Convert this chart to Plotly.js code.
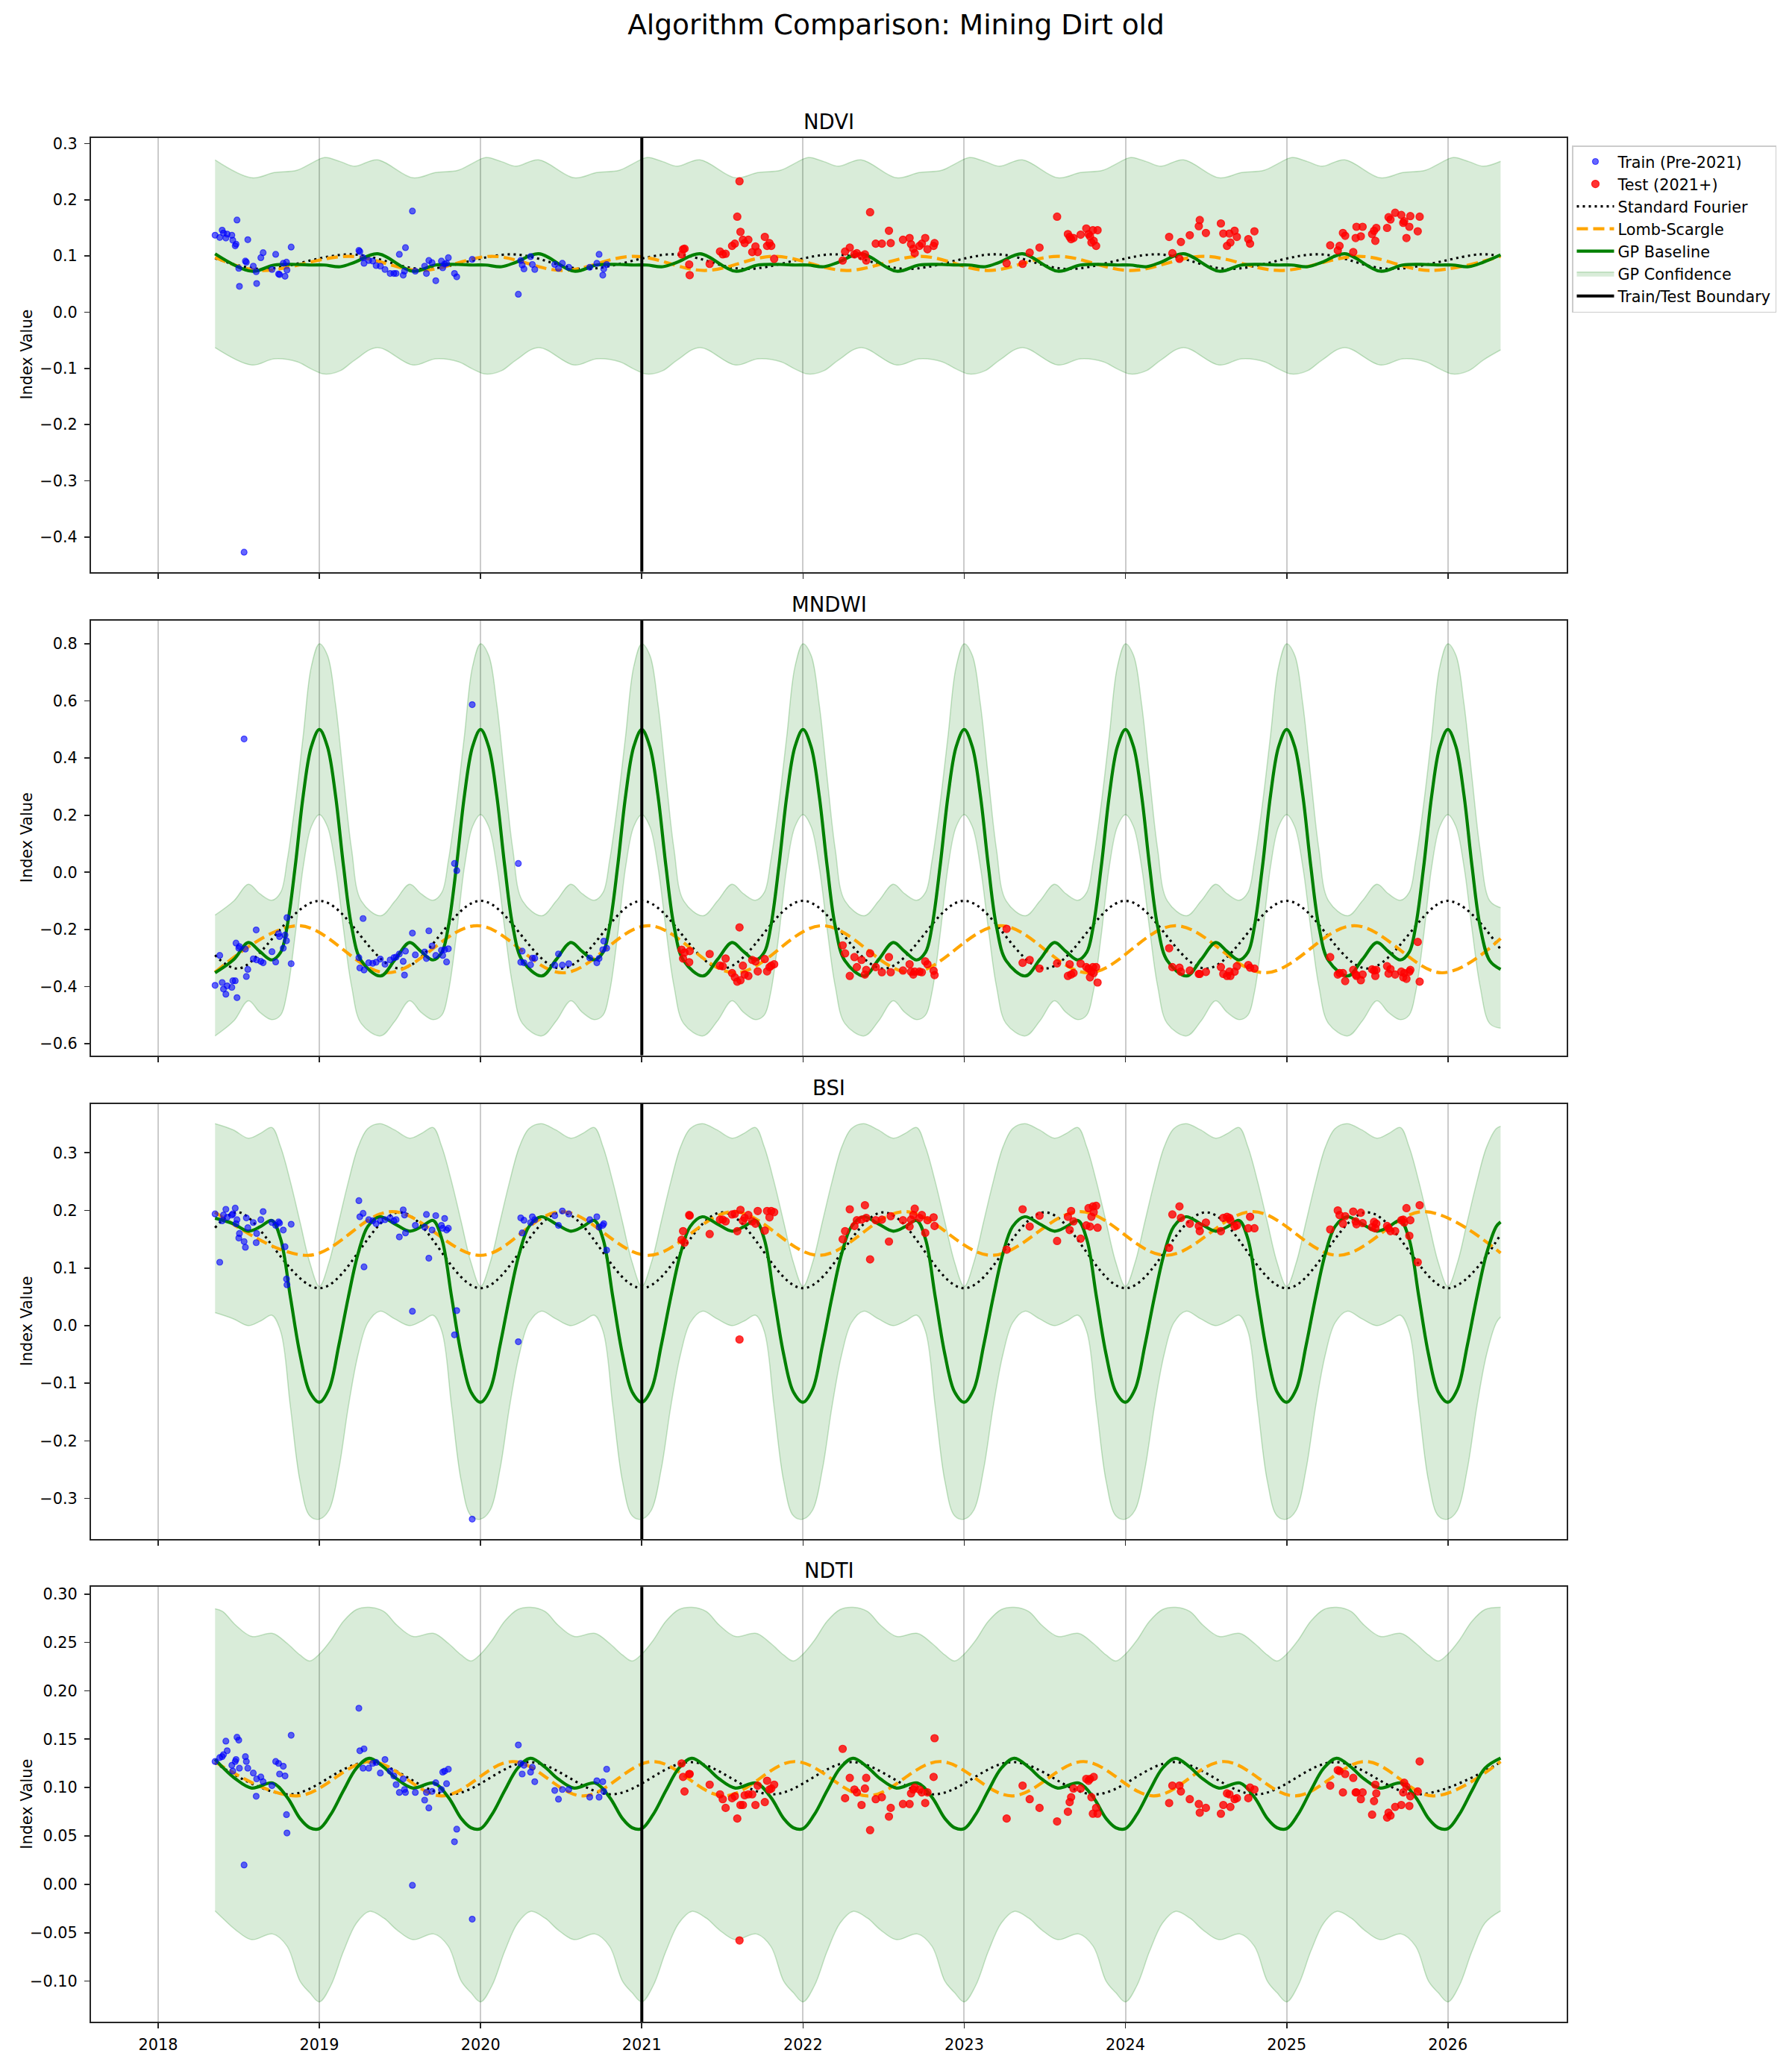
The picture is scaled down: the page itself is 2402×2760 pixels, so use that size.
<!DOCTYPE html>
<html>
<head>
<meta charset="utf-8">
<script src="https://cdn.plot.ly/plotly-3.0.1.min.js"></script>
<style>
  html, body { margin: 0; padding: 0; background: #ffffff; }
  #chart { width: 2402px; height: 2760px; }
</style>
</head>
<body>
<div id="chart"></div>
<script>
// ---------------------------------------------------------------------------
// Observation dates (decimal years) shared by all four indices
// ---------------------------------------------------------------------------
const trainYears = [
  2018.353, 2018.382, 2018.397, 2018.405, 2018.420, 2018.428, 2018.457, 2018.463, 2018.478, 2018.483,
  2018.489, 2018.500, 2018.504, 2018.533, 2018.541, 2018.547, 2018.556, 2018.590, 2018.608, 2018.611,
  2018.637, 2018.651, 2018.706, 2018.729, 2018.747, 2018.753, 2018.776, 2018.787, 2018.796, 2018.799,
  2018.825,
  2019.245, 2019.251, 2019.271, 2019.277, 2019.306, 2019.331, 2019.352, 2019.378, 2019.407, 2019.439,
  2019.462, 2019.476, 2019.496, 2019.520, 2019.528, 2019.534, 2019.577, 2019.595, 2019.653, 2019.664,
  2019.679, 2019.699, 2019.722, 2019.757, 2019.765, 2019.777, 2019.789, 2019.800, 2019.838, 2019.852,
  2019.948,
  2020.234, 2020.249, 2020.258, 2020.269, 2020.310, 2020.321, 2020.336, 2020.460, 2020.483, 2020.507,
  2020.547, 2020.677, 2020.721, 2020.735, 2020.758, 2020.764, 2020.782
];
const testYears = [
  2021.247, 2021.256, 2021.265, 2021.294, 2021.297, 2021.421, 2021.485, 2021.502, 2021.520, 2021.560,
  2021.577, 2021.592, 2021.606, 2021.612, 2021.627, 2021.638, 2021.661, 2021.685, 2021.705, 2021.719,
  2021.763, 2021.777, 2021.792, 2021.803, 2021.821,
  2022.246, 2022.261, 2022.290, 2022.319, 2022.334, 2022.363, 2022.384, 2022.392, 2022.416, 2022.451,
  2022.489, 2022.533, 2022.544, 2022.620, 2022.661, 2022.670, 2022.684, 2022.693, 2022.722, 2022.737,
  2022.758, 2022.772, 2022.810, 2022.816,
  2023.263, 2023.362, 2023.406, 2023.467, 2023.576, 2023.643, 2023.654, 2023.663, 2023.678, 2023.722,
  2023.757, 2023.771, 2023.780, 2023.789, 2023.798, 2023.803, 2023.818, 2023.827,
  2024.271, 2024.291, 2024.335, 2024.344, 2024.399, 2024.455, 2024.461, 2024.499, 2024.592, 2024.607,
  2024.630, 2024.645, 2024.651, 2024.677, 2024.691, 2024.762, 2024.773, 2024.800,
  2025.270, 2025.317, 2025.328, 2025.349, 2025.363, 2025.413, 2025.428, 2025.433, 2025.460, 2025.471,
  2025.530, 2025.542, 2025.550, 2025.556, 2025.623, 2025.632, 2025.644, 2025.673, 2025.711, 2025.723,
  2025.729, 2025.743, 2025.761, 2025.767, 2025.813, 2025.825
];

// ---------------------------------------------------------------------------
// NDVI
// ---------------------------------------------------------------------------
const ndviTrain = [
  0.137, 0.133, 0.146, 0.141, 0.132, 0.139, 0.137, 0.128, 0.118, 0.121,
  0.164, 0.078, 0.046, -0.427, 0.091, 0.089, 0.129, 0.082, 0.072, 0.051,
  0.097, 0.106, 0.076, 0.103, 0.068, 0.067, 0.087, 0.064, 0.089, 0.075,
  0.116,
  0.110, 0.108, 0.097, 0.087, 0.092, 0.091, 0.083, 0.082, 0.076, 0.069,
  0.069, 0.069, 0.103, 0.066, 0.073, 0.115, 0.180, 0.073, 0.082, 0.069,
  0.092, 0.088, 0.056, 0.091, 0.079, 0.086, 0.087, 0.097, 0.069, 0.063,
  0.094,
  0.032, 0.092, 0.084, 0.077, 0.099, 0.085, 0.076, 0.085, 0.078, 0.087,
  0.080, 0.080, 0.087, 0.103, 0.066, 0.077, 0.085
];
const ndviTest = [
  0.103, 0.112, 0.113, 0.085, 0.066, 0.086, 0.108, 0.103, 0.104, 0.118,
  0.122, 0.170, 0.233, 0.143, 0.129, 0.123, 0.129, 0.107, 0.117, 0.107,
  0.134, 0.118, 0.123, 0.118, 0.095,
  0.092, 0.108, 0.115, 0.103, 0.105, 0.100, 0.103, 0.092, 0.178, 0.122,
  0.122, 0.145, 0.123, 0.129, 0.132, 0.121, 0.113, 0.105, 0.118, 0.122,
  0.132, 0.112, 0.118, 0.123,
  0.087, 0.086, 0.106, 0.115, 0.170, 0.139, 0.134, 0.130, 0.132, 0.138,
  0.149, 0.139, 0.135, 0.124, 0.146, 0.127, 0.118, 0.146,
  0.134, 0.105, 0.095, 0.125, 0.137, 0.153, 0.164, 0.141, 0.158, 0.140,
  0.118, 0.140, 0.124, 0.145, 0.134, 0.130, 0.122, 0.144,
  0.119, 0.110, 0.118, 0.141, 0.136, 0.107, 0.132, 0.152, 0.135, 0.152,
  0.139, 0.145, 0.127, 0.150, 0.150, 0.169, 0.165, 0.177, 0.173, 0.159,
  0.162, 0.132, 0.152, 0.171, 0.144, 0.170
];
const ndviBandT = [
  2018.353, 2018.58, 2018.72, 2018.86, 2018.95,
  2019.03, 2019.13, 2019.22, 2019.36, 2019.58, 2019.72, 2019.86, 2019.95,
  2020.03, 2020.13, 2020.22, 2020.36, 2020.58, 2020.72, 2020.86, 2020.95,
  2021.03, 2021.13, 2021.22, 2021.36, 2021.58, 2021.72, 2021.86, 2021.95,
  2022.03, 2022.13, 2022.22, 2022.36, 2022.58, 2022.72, 2022.86, 2022.95,
  2023.03, 2023.13, 2023.22, 2023.36, 2023.58, 2023.72, 2023.86, 2023.95,
  2024.03, 2024.13, 2024.22, 2024.36, 2024.58, 2024.72, 2024.86, 2024.95,
  2025.03, 2025.13, 2025.22, 2025.36, 2025.58, 2025.72, 2025.86, 2025.95,
  2026.03, 2026.13, 2026.22, 2026.327
];
const ndviGp = [
  0.104, 0.073, 0.084, 0.085, 0.084,
  0.084, 0.081, 0.089, 0.104, 0.073, 0.084, 0.085, 0.084,
  0.084, 0.081, 0.089, 0.104, 0.073, 0.084, 0.085, 0.084,
  0.084, 0.081, 0.089, 0.104, 0.073, 0.084, 0.085, 0.084,
  0.084, 0.081, 0.089, 0.104, 0.073, 0.084, 0.085, 0.084,
  0.084, 0.081, 0.089, 0.104, 0.073, 0.084, 0.085, 0.084,
  0.084, 0.081, 0.089, 0.104, 0.073, 0.084, 0.085, 0.084,
  0.084, 0.081, 0.089, 0.104, 0.073, 0.084, 0.085, 0.084,
  0.084, 0.081, 0.089, 0.102
];
const ndviUpper = [
  0.271, 0.2392, 0.2485, 0.2525, 0.265,
  0.2753, 0.268, 0.2598, 0.2712, 0.2392, 0.2485, 0.2525, 0.265,
  0.2753, 0.268, 0.2598, 0.2712, 0.2392, 0.2485, 0.2525, 0.265,
  0.2753, 0.268, 0.2598, 0.2712, 0.2392, 0.2485, 0.2525, 0.265,
  0.2753, 0.268, 0.2598, 0.2712, 0.2392, 0.2485, 0.2525, 0.265,
  0.2753, 0.268, 0.2598, 0.2712, 0.2392, 0.2485, 0.2525, 0.265,
  0.2753, 0.268, 0.2598, 0.2712, 0.2392, 0.2485, 0.2525, 0.265,
  0.2753, 0.268, 0.2598, 0.2712, 0.2392, 0.2485, 0.2525, 0.265,
  0.2753, 0.268, 0.2598, 0.2686
];
const ndviLower = [
  -0.063, -0.094, -0.083, -0.088, -0.101,
  -0.110, -0.104, -0.085, -0.063, -0.094, -0.083, -0.088, -0.101,
  -0.110, -0.104, -0.085, -0.063, -0.094, -0.083, -0.088, -0.101,
  -0.110, -0.104, -0.085, -0.063, -0.094, -0.083, -0.088, -0.101,
  -0.110, -0.104, -0.085, -0.063, -0.094, -0.083, -0.088, -0.101,
  -0.110, -0.104, -0.085, -0.063, -0.094, -0.083, -0.088, -0.101,
  -0.110, -0.104, -0.085, -0.063, -0.094, -0.083, -0.088, -0.101,
  -0.110, -0.104, -0.085, -0.063, -0.094, -0.083, -0.088, -0.101,
  -0.110, -0.104, -0.085, -0.067
];
const ndviFourierT = [2018.353, 2018.64, 2019.20, 2019.64, 2020.20, 2020.64, 2021.20, 2021.64, 2022.20,
  2022.64, 2023.20, 2023.64, 2024.20, 2024.64, 2025.20, 2025.64, 2026.20, 2026.327];
const ndviFourierV = [0.096, 0.077, 0.103, 0.077, 0.103, 0.077, 0.103, 0.077, 0.103,
  0.077, 0.103, 0.077, 0.103, 0.077, 0.103, 0.077, 0.103, 0.100];
const ndviLombT = [2018.353, 2018.63, 2019.19, 2019.63, 2020.07, 2020.51, 2020.95, 2021.39, 2021.82, 2022.27,
  2022.73, 2023.15, 2023.58, 2024.03, 2024.48, 2024.96, 2025.45, 2025.89, 2026.327];
const ndviLombV = [0.0975, 0.0743, 0.0995, 0.0743, 0.0995, 0.0743, 0.0995, 0.0743, 0.0995, 0.0743,
  0.0995, 0.0743, 0.0995, 0.0743, 0.0995, 0.0743, 0.0995, 0.0743, 0.0995];

// ---------------------------------------------------------------------------
// MNDWI
// ---------------------------------------------------------------------------
const mndwiTrain = [
  -0.396, -0.291, -0.386, -0.409, -0.427, -0.398, -0.403, -0.380, -0.380, -0.248,
  -0.439, -0.266, -0.260, 0.467, -0.269, -0.365, -0.340, -0.303, -0.202, -0.307,
  -0.312, -0.317, -0.278, -0.314, -0.215, -0.225, -0.266, -0.220, -0.240, -0.159,
  -0.320,
  -0.299, -0.335, -0.162, -0.342, -0.317, -0.319, -0.315, -0.304, -0.322, -0.307,
  -0.299, -0.297, -0.286, -0.312, -0.360, -0.276, -0.213, -0.289, -0.279, -0.302,
  -0.205, -0.258, -0.291, -0.273, -0.291, -0.271, -0.314, -0.268, 0.031, 0.006,
  0.587,
  0.031, -0.315, -0.276, -0.317, -0.324, -0.301, -0.301, -0.325, -0.286, -0.325,
  -0.320, -0.300, -0.317, -0.302, -0.271, -0.241, -0.266
];
const mndwiTest = [
  -0.271, -0.302, -0.281, -0.315, -0.276, -0.286, -0.327, -0.329, -0.302, -0.353,
  -0.368, -0.383, -0.193, -0.378, -0.327, -0.358, -0.363, -0.307, -0.312, -0.347,
  -0.304, -0.347, -0.332, -0.327, -0.322,
  -0.256, -0.284, -0.363, -0.297, -0.332, -0.307, -0.358, -0.342, -0.284, -0.332,
  -0.350, -0.297, -0.350, -0.344, -0.322, -0.348, -0.358, -0.348, -0.348, -0.350,
  -0.312, -0.322, -0.345, -0.360,
  -0.198, -0.317, -0.307, -0.337, -0.319, -0.363, -0.322, -0.358, -0.353, -0.320,
  -0.332, -0.337, -0.368, -0.348, -0.332, -0.353, -0.332, -0.386,
  -0.266, -0.332, -0.334, -0.348, -0.344, -0.356, -0.356, -0.349, -0.332, -0.356,
  -0.363, -0.348, -0.363, -0.348, -0.329, -0.325, -0.334, -0.337,
  -0.297, -0.358, -0.353, -0.353, -0.381, -0.342, -0.358, -0.363, -0.378, -0.358,
  -0.340, -0.344, -0.363, -0.342, -0.329, -0.355, -0.339, -0.358, -0.348, -0.368,
  -0.353, -0.373, -0.348, -0.342, -0.244, -0.383
];
const mndwiBandT = [
  2018.353, 2018.47, 2018.56, 2018.63, 2018.705, 2018.76, 2018.80, 2018.85, 2018.90, 2018.95,
  2019.00, 2019.05, 2019.10, 2019.15, 2019.20, 2019.26, 2019.38, 2019.47, 2019.56, 2019.63, 2019.705, 2019.76, 2019.80, 2019.85, 2019.90, 2019.95,
  2020.00, 2020.05, 2020.10, 2020.15, 2020.20, 2020.26, 2020.38, 2020.47, 2020.56, 2020.63, 2020.705, 2020.76, 2020.80, 2020.85, 2020.90, 2020.95,
  2021.00, 2021.05, 2021.10, 2021.15, 2021.20, 2021.26, 2021.38, 2021.47, 2021.56, 2021.63, 2021.705, 2021.76, 2021.80, 2021.85, 2021.90, 2021.95,
  2022.00, 2022.05, 2022.10, 2022.15, 2022.20, 2022.26, 2022.38, 2022.47, 2022.56, 2022.63, 2022.705, 2022.76, 2022.80, 2022.85, 2022.90, 2022.95,
  2023.00, 2023.05, 2023.10, 2023.15, 2023.20, 2023.26, 2023.38, 2023.47, 2023.56, 2023.63, 2023.705, 2023.76, 2023.80, 2023.85, 2023.90, 2023.95,
  2024.00, 2024.05, 2024.10, 2024.15, 2024.20, 2024.26, 2024.38, 2024.47, 2024.56, 2024.63, 2024.705, 2024.76, 2024.80, 2024.85, 2024.90, 2024.95,
  2025.00, 2025.05, 2025.10, 2025.15, 2025.20, 2025.26, 2025.38, 2025.47, 2025.56, 2025.63, 2025.705, 2025.76, 2025.80, 2025.85, 2025.90, 2025.95,
  2026.00, 2026.05, 2026.10, 2026.15, 2026.20, 2026.26, 2026.327
];
const mndwiGp = [
  -0.352, -0.305, -0.246, -0.277, -0.307, -0.28, -0.19, 0.02, 0.27, 0.44,
  0.50, 0.44, 0.27, 0.02, -0.19, -0.31, -0.363, -0.305, -0.246, -0.277, -0.307, -0.28, -0.19, 0.02, 0.27, 0.44,
  0.50, 0.44, 0.27, 0.02, -0.19, -0.31, -0.363, -0.305, -0.246, -0.277, -0.307, -0.28, -0.19, 0.02, 0.27, 0.44,
  0.50, 0.44, 0.27, 0.02, -0.19, -0.31, -0.363, -0.305, -0.246, -0.277, -0.307, -0.28, -0.19, 0.02, 0.27, 0.44,
  0.50, 0.44, 0.27, 0.02, -0.19, -0.31, -0.363, -0.305, -0.246, -0.277, -0.307, -0.28, -0.19, 0.02, 0.27, 0.44,
  0.50, 0.44, 0.27, 0.02, -0.19, -0.31, -0.363, -0.305, -0.246, -0.277, -0.307, -0.28, -0.19, 0.02, 0.27, 0.44,
  0.50, 0.44, 0.27, 0.02, -0.19, -0.31, -0.363, -0.305, -0.246, -0.277, -0.307, -0.28, -0.19, 0.02, 0.27, 0.44,
  0.50, 0.44, 0.27, 0.02, -0.19, -0.31, -0.363, -0.305, -0.246, -0.277, -0.307, -0.28, -0.19, 0.02, 0.27, 0.44,
  0.50, 0.44, 0.27, 0.02, -0.19, -0.31, -0.340
];
const mndwiUpper = [
  -0.150, -0.10, -0.042, -0.075, -0.098, -0.07, 0.04, 0.24, 0.48, 0.72,
  0.80, 0.76, 0.59, 0.33, 0.08, -0.10, -0.152, -0.10, -0.042, -0.075, -0.098, -0.07, 0.04, 0.24, 0.48, 0.72,
  0.80, 0.76, 0.59, 0.33, 0.08, -0.10, -0.152, -0.10, -0.042, -0.075, -0.098, -0.07, 0.04, 0.24, 0.48, 0.72,
  0.80, 0.76, 0.59, 0.33, 0.08, -0.10, -0.152, -0.10, -0.042, -0.075, -0.098, -0.07, 0.04, 0.24, 0.48, 0.72,
  0.80, 0.76, 0.59, 0.33, 0.08, -0.10, -0.152, -0.10, -0.042, -0.075, -0.098, -0.07, 0.04, 0.24, 0.48, 0.72,
  0.80, 0.76, 0.59, 0.33, 0.08, -0.10, -0.152, -0.10, -0.042, -0.075, -0.098, -0.07, 0.04, 0.24, 0.48, 0.72,
  0.80, 0.76, 0.59, 0.33, 0.08, -0.10, -0.152, -0.10, -0.042, -0.075, -0.098, -0.07, 0.04, 0.24, 0.48, 0.72,
  0.80, 0.76, 0.59, 0.33, 0.08, -0.10, -0.152, -0.10, -0.042, -0.075, -0.098, -0.07, 0.04, 0.24, 0.48, 0.72,
  0.80, 0.76, 0.59, 0.33, 0.08, -0.10, -0.124
];
const mndwiLower = [
  -0.573, -0.52, -0.45, -0.49, -0.516, -0.50, -0.42, -0.22, 0.02, 0.16,
  0.202, 0.16, 0.02, -0.20, -0.40, -0.53, -0.573, -0.52, -0.45, -0.49, -0.516, -0.50, -0.42, -0.22, 0.02, 0.16,
  0.202, 0.16, 0.02, -0.20, -0.40, -0.53, -0.573, -0.52, -0.45, -0.49, -0.516, -0.50, -0.42, -0.22, 0.02, 0.16,
  0.202, 0.16, 0.02, -0.20, -0.40, -0.53, -0.573, -0.52, -0.45, -0.49, -0.516, -0.50, -0.42, -0.22, 0.02, 0.16,
  0.202, 0.16, 0.02, -0.20, -0.40, -0.53, -0.573, -0.52, -0.45, -0.49, -0.516, -0.50, -0.42, -0.22, 0.02, 0.16,
  0.202, 0.16, 0.02, -0.20, -0.40, -0.53, -0.573, -0.52, -0.45, -0.49, -0.516, -0.50, -0.42, -0.22, 0.02, 0.16,
  0.202, 0.16, 0.02, -0.20, -0.40, -0.53, -0.573, -0.52, -0.45, -0.49, -0.516, -0.50, -0.42, -0.22, 0.02, 0.16,
  0.202, 0.16, 0.02, -0.20, -0.40, -0.53, -0.573, -0.52, -0.45, -0.49, -0.516, -0.50, -0.42, -0.22, 0.02, 0.16,
  0.202, 0.16, 0.02, -0.20, -0.40, -0.53, -0.546
];
const mndwiFourierT = [2018.353, 2018.5, 2019.0, 2019.5, 2020.0, 2020.5, 2021.0, 2021.5, 2022.0,
  2022.5, 2023.0, 2023.5, 2024.0, 2024.5, 2025.0, 2025.5, 2026.0, 2026.327];
const mndwiFourierV = [-0.290, -0.337, -0.100, -0.337, -0.100, -0.337, -0.100, -0.337, -0.100,
  -0.337, -0.100, -0.337, -0.100, -0.337, -0.100, -0.337, -0.100, -0.270];
const mndwiLombT = [2018.353, 2018.87, 2019.42, 2019.98, 2020.51, 2021.04, 2021.58, 2022.12,
  2022.67, 2023.225, 2023.77, 2024.31, 2024.865, 2025.42, 2025.965, 2026.327];
const mndwiLombV = [-0.350, -0.187, -0.352, -0.187, -0.352, -0.187, -0.352, -0.187,
  -0.352, -0.187, -0.352, -0.187, -0.352, -0.187, -0.352, -0.232];

// ---------------------------------------------------------------------------
// BSI
// ---------------------------------------------------------------------------
const bsiTrain = [
  0.194, 0.110, 0.182, 0.192, 0.202, 0.188, 0.192, 0.194, 0.204, 0.177,
  0.184, 0.152, 0.160, 0.146, 0.136, 0.187, 0.170, 0.179, 0.144, 0.160,
  0.184, 0.198, 0.179, 0.174, 0.180, 0.178, 0.166, 0.137, 0.081, 0.071,
  0.176,
  0.217, 0.189, 0.195, 0.102, 0.184, 0.182, 0.177, 0.182, 0.184, 0.187,
  0.182, 0.184, 0.154, 0.201, 0.192, 0.161, 0.025, 0.174, 0.171, 0.193,
  0.117, 0.166, 0.191, 0.174, 0.169, 0.186, 0.166, 0.169, -0.016, 0.026,
  -0.336,
  -0.028, 0.187, 0.161, 0.183, 0.179, 0.189, 0.184, 0.191, 0.174, 0.199,
  0.194, 0.184, 0.189, 0.171, 0.174, 0.177, 0.131
];
const bsiTest = [
  0.149, 0.164, 0.144, 0.192, 0.191, 0.159, 0.184, 0.184, 0.181, 0.193,
  0.194, 0.164, -0.024, 0.201, 0.182, 0.187, 0.192, 0.181, 0.177, 0.199,
  0.165, 0.199, 0.188, 0.199, 0.197,
  0.150, 0.164, 0.202, 0.173, 0.183, 0.184, 0.209, 0.187, 0.115, 0.183,
  0.184, 0.146, 0.190, 0.183, 0.172, 0.184, 0.192, 0.203, 0.187, 0.192,
  0.161, 0.183, 0.188, 0.173,
  0.132, 0.202, 0.172, 0.191, 0.147, 0.189, 0.166, 0.199, 0.181, 0.151,
  0.174, 0.204, 0.172, 0.189, 0.207, 0.197, 0.208, 0.170,
  0.135, 0.193, 0.207, 0.187, 0.177, 0.173, 0.164, 0.179, 0.164, 0.187,
  0.189, 0.187, 0.183, 0.172, 0.174, 0.169, 0.189, 0.169,
  0.167, 0.200, 0.192, 0.177, 0.190, 0.198, 0.181, 0.176, 0.196, 0.178,
  0.171, 0.180, 0.169, 0.177, 0.173, 0.169, 0.164, 0.164, 0.183, 0.184,
  0.179, 0.204, 0.156, 0.183, 0.110, 0.209
];
const bsiBandT = [
  2018.353, 2018.465, 2018.56, 2018.635, 2018.705, 2018.76, 2018.82, 2018.88, 2018.94,
  2019.00, 2019.06, 2019.12, 2019.18, 2019.24, 2019.30, 2019.375, 2019.465, 2019.56, 2019.635, 2019.705, 2019.76, 2019.82, 2019.88, 2019.94,
  2020.00, 2020.06, 2020.12, 2020.18, 2020.24, 2020.30, 2020.375, 2020.465, 2020.56, 2020.635, 2020.705, 2020.76, 2020.82, 2020.88, 2020.94,
  2021.00, 2021.06, 2021.12, 2021.18, 2021.24, 2021.30, 2021.375, 2021.465, 2021.56, 2021.635, 2021.705, 2021.76, 2021.82, 2021.88, 2021.94,
  2022.00, 2022.06, 2022.12, 2022.18, 2022.24, 2022.30, 2022.375, 2022.465, 2022.56, 2022.635, 2022.705, 2022.76, 2022.82, 2022.88, 2022.94,
  2023.00, 2023.06, 2023.12, 2023.18, 2023.24, 2023.30, 2023.375, 2023.465, 2023.56, 2023.635, 2023.705, 2023.76, 2023.82, 2023.88, 2023.94,
  2024.00, 2024.06, 2024.12, 2024.18, 2024.24, 2024.30, 2024.375, 2024.465, 2024.56, 2024.635, 2024.705, 2024.76, 2024.82, 2024.88, 2024.94,
  2025.00, 2025.06, 2025.12, 2025.18, 2025.24, 2025.30, 2025.375, 2025.465, 2025.56, 2025.635, 2025.705, 2025.76, 2025.82, 2025.88, 2025.94,
  2026.00, 2026.06, 2026.12, 2026.18, 2026.24, 2026.30, 2026.327
];
const bsiGp = [
  0.1866, 0.177, 0.164, 0.172, 0.1826, 0.15, 0.05, -0.05, -0.115,
  -0.133, -0.11, -0.035, 0.05, 0.125, 0.172, 0.189, 0.177, 0.164, 0.172, 0.1826, 0.15, 0.05, -0.05, -0.115,
  -0.133, -0.11, -0.035, 0.05, 0.125, 0.172, 0.189, 0.177, 0.164, 0.172, 0.1826, 0.15, 0.05, -0.05, -0.115,
  -0.133, -0.11, -0.035, 0.05, 0.125, 0.172, 0.189, 0.177, 0.164, 0.172, 0.1826, 0.15, 0.05, -0.05, -0.115,
  -0.133, -0.11, -0.035, 0.05, 0.125, 0.172, 0.189, 0.177, 0.164, 0.172, 0.1826, 0.15, 0.05, -0.05, -0.115,
  -0.133, -0.11, -0.035, 0.05, 0.125, 0.172, 0.189, 0.177, 0.164, 0.172, 0.1826, 0.15, 0.05, -0.05, -0.115,
  -0.133, -0.11, -0.035, 0.05, 0.125, 0.172, 0.189, 0.177, 0.164, 0.172, 0.1826, 0.15, 0.05, -0.05, -0.115,
  -0.133, -0.11, -0.035, 0.05, 0.125, 0.172, 0.189, 0.177, 0.164, 0.172, 0.1826, 0.15, 0.05, -0.05, -0.115,
  -0.133, -0.11, -0.035, 0.05, 0.125, 0.172, 0.180
];
const bsiUpper = [
  0.3506, 0.340, 0.3254, 0.334, 0.344, 0.31, 0.25, 0.18, 0.11,
  0.068, 0.11, 0.18, 0.25, 0.31, 0.342, 0.3506, 0.340, 0.3254, 0.334, 0.344, 0.31, 0.25, 0.18, 0.11,
  0.068, 0.11, 0.18, 0.25, 0.31, 0.342, 0.3506, 0.340, 0.3254, 0.334, 0.344, 0.31, 0.25, 0.18, 0.11,
  0.068, 0.11, 0.18, 0.25, 0.31, 0.342, 0.3506, 0.340, 0.3254, 0.334, 0.344, 0.31, 0.25, 0.18, 0.11,
  0.068, 0.11, 0.18, 0.25, 0.31, 0.342, 0.3506, 0.340, 0.3254, 0.334, 0.344, 0.31, 0.25, 0.18, 0.11,
  0.068, 0.11, 0.18, 0.25, 0.31, 0.342, 0.3506, 0.340, 0.3254, 0.334, 0.344, 0.31, 0.25, 0.18, 0.11,
  0.068, 0.11, 0.18, 0.25, 0.31, 0.342, 0.3506, 0.340, 0.3254, 0.334, 0.344, 0.31, 0.25, 0.18, 0.11,
  0.068, 0.11, 0.18, 0.25, 0.31, 0.342, 0.3506, 0.340, 0.3254, 0.334, 0.344, 0.31, 0.25, 0.18, 0.11,
  0.068, 0.11, 0.18, 0.25, 0.31, 0.342, 0.346
];
const bsiLower = [
  0.0226, 0.012, 0.000, 0.008, 0.018, -0.01, -0.14, -0.27, -0.33,
  -0.336, -0.32, -0.25, -0.14, -0.05, 0.005, 0.025, 0.012, 0.000, 0.008, 0.018, -0.01, -0.14, -0.27, -0.33,
  -0.336, -0.32, -0.25, -0.14, -0.05, 0.005, 0.025, 0.012, 0.000, 0.008, 0.018, -0.01, -0.14, -0.27, -0.33,
  -0.336, -0.32, -0.25, -0.14, -0.05, 0.005, 0.025, 0.012, 0.000, 0.008, 0.018, -0.01, -0.14, -0.27, -0.33,
  -0.336, -0.32, -0.25, -0.14, -0.05, 0.005, 0.025, 0.012, 0.000, 0.008, 0.018, -0.01, -0.14, -0.27, -0.33,
  -0.336, -0.32, -0.25, -0.14, -0.05, 0.005, 0.025, 0.012, 0.000, 0.008, 0.018, -0.01, -0.14, -0.27, -0.33,
  -0.336, -0.32, -0.25, -0.14, -0.05, 0.005, 0.025, 0.012, 0.000, 0.008, 0.018, -0.01, -0.14, -0.27, -0.33,
  -0.336, -0.32, -0.25, -0.14, -0.05, 0.005, 0.025, 0.012, 0.000, 0.008, 0.018, -0.01, -0.14, -0.27, -0.33,
  -0.336, -0.32, -0.25, -0.14, -0.05, 0.005, 0.015
];
const bsiFourierT = [2018.353, 2018.5, 2019.0, 2019.5, 2020.0, 2020.5, 2021.0, 2021.5, 2022.0,
  2022.5, 2023.0, 2023.5, 2024.0, 2024.5, 2025.0, 2025.5, 2026.0, 2026.327];
const bsiFourierV = [0.170, 0.1967, 0.065, 0.1967, 0.065, 0.1967, 0.065, 0.1967, 0.065,
  0.1967, 0.065, 0.1967, 0.065, 0.1967, 0.065, 0.1967, 0.065, 0.158];
const bsiLombT = [2018.353, 2018.93, 2019.45, 2020.00, 2020.50, 2021.04, 2021.57, 2022.10,
  2022.63, 2023.17, 2023.72, 2024.25, 2024.79, 2025.32, 2025.85, 2026.327];
const bsiLombV = [0.197, 0.122, 0.198, 0.122, 0.198, 0.122, 0.198, 0.122,
  0.198, 0.122, 0.198, 0.122, 0.198, 0.122, 0.198, 0.126];

// ---------------------------------------------------------------------------
// NDTI
// ---------------------------------------------------------------------------
const ndtiTrain = [
  0.127, 0.131, 0.132, 0.134, 0.148, 0.138, 0.123, 0.117, 0.127, 0.129,
  0.152, 0.149, 0.120, 0.020, 0.132, 0.127, 0.120, 0.115, 0.091, 0.109,
  0.111, 0.106, 0.102, 0.127, 0.125, 0.114, 0.122, 0.112, 0.072, 0.053,
  0.154,
  0.182, 0.138, 0.120, 0.140, 0.120, 0.125, 0.126, 0.115, 0.129, 0.117,
  0.112, 0.103, 0.095, 0.109, 0.098, 0.095, -0.001, 0.095, 0.087, 0.095,
  0.079, 0.096, 0.105, 0.098, 0.116, 0.117, 0.104, 0.119, 0.044, 0.057,
  -0.036,
  0.144, 0.125, 0.114, 0.123, 0.116, 0.121, 0.106, 0.097, 0.088, 0.098,
  0.098, 0.090, 0.107, 0.090, 0.106, 0.096, 0.119
];
const ndtiTest = [
  0.125, 0.111, 0.096, 0.114, 0.114, 0.103, 0.093, 0.088, 0.079, 0.089,
  0.091, 0.068, -0.058, 0.082, 0.082, 0.092, 0.093, 0.093, 0.082, 0.102,
  0.085, 0.107, 0.098, 0.099, 0.103,
  0.140, 0.089, 0.110, 0.098, 0.095, 0.082, 0.099, 0.110, 0.056, 0.088,
  0.090, 0.070, 0.079, 0.083, 0.083, 0.094, 0.098, 0.100, 0.098, 0.095,
  0.084, 0.095, 0.111, 0.151,
  0.068, 0.102, 0.088, 0.079, 0.065, 0.075, 0.085, 0.090, 0.099, 0.099,
  0.109, 0.107, 0.109, 0.090, 0.073, 0.111, 0.079, 0.073,
  0.084, 0.102, 0.102, 0.096, 0.088, 0.083, 0.074, 0.079, 0.073, 0.082,
  0.094, 0.093, 0.080, 0.088, 0.089, 0.089, 0.100, 0.098,
  0.102, 0.118, 0.117, 0.095, 0.114, 0.110, 0.095, 0.095, 0.088, 0.095,
  0.072, 0.086, 0.103, 0.094, 0.069, 0.074, 0.071, 0.080, 0.082, 0.095,
  0.105, 0.101, 0.081, 0.091, 0.096, 0.127
];
const ndtiBandT = [
  2018.353, 2018.40, 2018.48, 2018.58, 2018.71, 2018.80, 2018.88, 2018.94,
  2019.00, 2019.07, 2019.15, 2019.23, 2019.31, 2019.40, 2019.48, 2019.58, 2019.71, 2019.80, 2019.88, 2019.94,
  2020.00, 2020.07, 2020.15, 2020.23, 2020.31, 2020.40, 2020.48, 2020.58, 2020.71, 2020.80, 2020.88, 2020.94,
  2021.00, 2021.07, 2021.15, 2021.23, 2021.31, 2021.40, 2021.48, 2021.58, 2021.71, 2021.80, 2021.88, 2021.94,
  2022.00, 2022.07, 2022.15, 2022.23, 2022.31, 2022.40, 2022.48, 2022.58, 2022.71, 2022.80, 2022.88, 2022.94,
  2023.00, 2023.07, 2023.15, 2023.23, 2023.31, 2023.40, 2023.48, 2023.58, 2023.71, 2023.80, 2023.88, 2023.94,
  2024.00, 2024.07, 2024.15, 2024.23, 2024.31, 2024.40, 2024.48, 2024.58, 2024.71, 2024.80, 2024.88, 2024.94,
  2025.00, 2025.07, 2025.15, 2025.23, 2025.31, 2025.40, 2025.48, 2025.58, 2025.71, 2025.80, 2025.88, 2025.94,
  2026.00, 2026.07, 2026.15, 2026.23, 2026.327
];
const ndtiGp = [
  0.1294, 0.121, 0.109, 0.0995, 0.1047, 0.090, 0.068, 0.0585,
  0.0575, 0.072, 0.097, 0.120, 0.1303, 0.121, 0.109, 0.0995, 0.1047, 0.090, 0.068, 0.0585,
  0.0575, 0.072, 0.097, 0.120, 0.1303, 0.121, 0.109, 0.0995, 0.1047, 0.090, 0.068, 0.0585,
  0.0575, 0.072, 0.097, 0.120, 0.1303, 0.121, 0.109, 0.0995, 0.1047, 0.090, 0.068, 0.0585,
  0.0575, 0.072, 0.097, 0.120, 0.1303, 0.121, 0.109, 0.0995, 0.1047, 0.090, 0.068, 0.0585,
  0.0575, 0.072, 0.097, 0.120, 0.1303, 0.121, 0.109, 0.0995, 0.1047, 0.090, 0.068, 0.0585,
  0.0575, 0.072, 0.097, 0.120, 0.1303, 0.121, 0.109, 0.0995, 0.1047, 0.090, 0.068, 0.0585,
  0.0575, 0.072, 0.097, 0.120, 0.1303, 0.121, 0.109, 0.0995, 0.1047, 0.090, 0.068, 0.0585,
  0.0575, 0.072, 0.097, 0.120, 0.1304
];
const ndtiUpper = [
  0.2847, 0.282, 0.268, 0.2562, 0.2594, 0.249, 0.237, 0.2308,
  0.238, 0.252, 0.272, 0.284, 0.2863, 0.282, 0.268, 0.2562, 0.2594, 0.249, 0.237, 0.2308,
  0.238, 0.252, 0.272, 0.284, 0.2863, 0.282, 0.268, 0.2562, 0.2594, 0.249, 0.237, 0.2308,
  0.238, 0.252, 0.272, 0.284, 0.2863, 0.282, 0.268, 0.2562, 0.2594, 0.249, 0.237, 0.2308,
  0.238, 0.252, 0.272, 0.284, 0.2863, 0.282, 0.268, 0.2562, 0.2594, 0.249, 0.237, 0.2308,
  0.238, 0.252, 0.272, 0.284, 0.2863, 0.282, 0.268, 0.2562, 0.2594, 0.249, 0.237, 0.2308,
  0.238, 0.252, 0.272, 0.284, 0.2863, 0.282, 0.268, 0.2562, 0.2594, 0.249, 0.237, 0.2308,
  0.238, 0.252, 0.272, 0.284, 0.2863, 0.282, 0.268, 0.2562, 0.2594, 0.249, 0.237, 0.2308,
  0.238, 0.252, 0.272, 0.284, 0.2863
];
const ndtiLower = [
  -0.0275, -0.035, -0.047, -0.0572, -0.0513, -0.064, -0.10, -0.112,
  -0.1215, -0.105, -0.069, -0.040, -0.028, -0.035, -0.047, -0.0572, -0.0513, -0.064, -0.10, -0.112,
  -0.1215, -0.105, -0.069, -0.040, -0.028, -0.035, -0.047, -0.0572, -0.0513, -0.064, -0.10, -0.112,
  -0.1215, -0.105, -0.069, -0.040, -0.028, -0.035, -0.047, -0.0572, -0.0513, -0.064, -0.10, -0.112,
  -0.1215, -0.105, -0.069, -0.040, -0.028, -0.035, -0.047, -0.0572, -0.0513, -0.064, -0.10, -0.112,
  -0.1215, -0.105, -0.069, -0.040, -0.028, -0.035, -0.047, -0.0572, -0.0513, -0.064, -0.10, -0.112,
  -0.1215, -0.105, -0.069, -0.040, -0.028, -0.035, -0.047, -0.0572, -0.0513, -0.064, -0.10, -0.112,
  -0.1215, -0.105, -0.069, -0.040, -0.028, -0.035, -0.047, -0.0572, -0.0513, -0.064, -0.10, -0.112,
  -0.1215, -0.105, -0.069, -0.040, -0.0275
];
const ndtiFourierT = [2018.353, 2018.81, 2019.30, 2019.81, 2020.30, 2020.81, 2021.30, 2021.81, 2022.30,
  2022.81, 2023.30, 2023.81, 2024.30, 2024.81, 2025.30, 2025.81, 2026.327];
const ndtiFourierV = [0.1255, 0.093, 0.1263, 0.093, 0.1263, 0.093, 0.1263, 0.093, 0.1263,
  0.093, 0.1263, 0.093, 0.1263, 0.093, 0.1263, 0.093, 0.1262];
const ndtiLombT = [2018.353, 2018.86, 2019.32, 2019.76, 2020.20, 2020.635, 2021.07, 2021.51, 2021.95, 2022.40,
  2022.85, 2023.295, 2023.74, 2024.175, 2024.61, 2025.05, 2025.49, 2025.91, 2026.327];
const ndtiLombV = [0.1265, 0.0914, 0.1269, 0.0914, 0.1269, 0.0914, 0.1269, 0.0914, 0.1269, 0.0914,
  0.1269, 0.0914, 0.1269, 0.0914, 0.1269, 0.0914, 0.1269, 0.0914, 0.1269];

// ---------------------------------------------------------------------------
// Figure setup
// ---------------------------------------------------------------------------
const FIG_W = 2402, FIG_H = 2760;
const FONT = 'DejaVu Sans, Liberation Sans, Arial, sans-serif';
const PLOT_LEFT = 122, PLOT_RIGHT = 2100;           // px
const X_RANGE = [2017.5835, 2026.737];
const YEAR_TICK0 = 2018;
const BOUNDARY_YEAR = 2021;
const TITLE = 'Algorithm Comparison: Mining Dirt old';

const panels = [
  { name: 'NDVI',  top: 184.7,  bottom: 766.5,  yRange: [-0.462, 0.3104], dtick: 0.1,  fmt: '.1f',
    train: ndviTrain, test: ndviTest, bandT: ndviBandT, gp: ndviGp, upper: ndviUpper, lower: ndviLower,
    fT: ndviFourierT, fV: ndviFourierV, lT: ndviLombT, lV: ndviLombV },
  { name: 'MNDWI', top: 831.7,  bottom: 1414.6, yRange: [-0.641, 0.882],  dtick: 0.2,  fmt: '.1f',
    train: mndwiTrain, test: mndwiTest, bandT: mndwiBandT, gp: mndwiGp, upper: mndwiUpper, lower: mndwiLower,
    fT: mndwiFourierT, fV: mndwiFourierV, lT: mndwiLombT, lV: mndwiLombV },
  { name: 'BSI',   top: 1479.7, bottom: 2063.0, yRange: [-0.3705, 0.385], dtick: 0.1,  fmt: '.1f',
    train: bsiTrain, test: bsiTest, bandT: bsiBandT, gp: bsiGp, upper: bsiUpper, lower: bsiLower,
    fT: bsiFourierT, fV: bsiFourierV, lT: bsiLombT, lV: bsiLombV },
  { name: 'NDTI',  top: 2127.3, bottom: 2710.0, yRange: [-0.142, 0.3073], dtick: 0.05, fmt: '.2f',
    train: ndtiTrain, test: ndtiTest, bandT: ndtiBandT, gp: ndtiGp, upper: ndtiUpper, lower: ndtiLower,
    fT: ndtiFourierT, fV: ndtiFourierV, lT: ndtiLombT, lV: ndtiLombV }
];

const SPINE = '#262626';
const TICK_FONT = { family: FONT, size: 20.8, color: '#000000' };
const BAND_EDGE = 'rgba(0,128,0,0.22)';
const BAND_FILL = 'rgba(0,128,0,0.15)';

const traces = [];
const layout = {
  width: FIG_W, height: FIG_H,
  margin: { l: 0, r: 0, t: 0, b: 0, pad: 0 },
  paper_bgcolor: '#ffffff', plot_bgcolor: '#ffffff',
  font: { family: FONT, color: '#000000' },
  hovermode: false,
  showlegend: true,
  title: {
    text: TITLE, x: 0.5, xanchor: 'center', y: 1 - 33 / FIG_H, yanchor: 'middle',
    font: { family: FONT, size: 37.5, color: '#000000' }
  },
  legend: {
    x: 2107 / FIG_W, y: 1 - 195 / FIG_H, xanchor: 'left', yanchor: 'top',
    bgcolor: 'rgba(255,255,255,0.8)', bordercolor: '#cccccc', borderwidth: 1.5,
    font: { family: FONT, size: 20.8, color: '#000000' },
    traceorder: 'normal', itemwidth: 50
  },
  annotations: [],
  shapes: []
};

panels.forEach((p, i) => {
  const n = i + 1;
  const sfx = n === 1 ? '' : String(n);
  const xa = 'x' + sfx, ya = 'y' + sfx;
  const first = i === 0;
  const yDom = [1 - p.bottom / FIG_H, 1 - p.top / FIG_H];

  layout['xaxis' + sfx] = {
    domain: [PLOT_LEFT / FIG_W, PLOT_RIGHT / FIG_W], anchor: ya, range: X_RANGE,
    tickmode: 'linear', tick0: YEAR_TICK0, dtick: 1, tickformat: 'd',
    showgrid: true, gridcolor: '#cbcbcb', gridwidth: 2, zeroline: false,
    showline: true, mirror: true, linecolor: SPINE, linewidth: 2,
    ticks: 'outside', ticklen: 7, tickwidth: 1.7, tickcolor: SPINE,
    showticklabels: n === panels.length, tickfont: TICK_FONT, ticklabelstandoff: 4,
    matches: first ? undefined : 'x'
  };
  layout['yaxis' + sfx] = {
    domain: yDom, anchor: xa, range: p.yRange,
    tickmode: 'linear', tick0: 0, dtick: p.dtick, tickformat: p.fmt,
    showgrid: false, zeroline: false,
    showline: true, mirror: true, linecolor: SPINE, linewidth: 2,
    ticks: 'outside', ticklen: 7, tickwidth: 1.7, tickcolor: SPINE,
    tickfont: TICK_FONT, ticklabelstandoff: 5
  };

  // confidence band (lower edge first, upper edge fills down to it)
  traces.push({
    type: 'scatter', x: p.bandT, y: p.lower, xaxis: xa, yaxis: ya, mode: 'lines',
    line: { color: BAND_EDGE, width: 1.5, shape: 'spline' },
    showlegend: false, hoverinfo: 'skip'
  });
  traces.push({
    type: 'scatter', x: p.bandT, y: p.upper, xaxis: xa, yaxis: ya, mode: 'lines',
    fill: 'tonexty', fillcolor: BAND_FILL,
    line: { color: BAND_EDGE, width: 1.5, shape: 'spline' },
    name: 'GP Confidence', legendgroup: 'conf', showlegend: first, legendrank: 6
  });
  // model curves
  traces.push({
    type: 'scatter', x: p.fT, y: p.fV, xaxis: xa, yaxis: ya, mode: 'lines',
    line: { color: '#000000', width: 3.1, dash: '3px,5px', shape: 'spline' },
    name: 'Standard Fourier', legendgroup: 'fourier', showlegend: first, legendrank: 3
  });
  traces.push({
    type: 'scatter', x: p.lT, y: p.lV, xaxis: xa, yaxis: ya, mode: 'lines',
    line: { color: '#FFA500', width: 4.2, dash: '15px,7px', shape: 'spline' },
    name: 'Lomb-Scargle', legendgroup: 'lomb', showlegend: first, legendrank: 4
  });
  traces.push({
    type: 'scatter', x: p.bandT, y: p.gp, xaxis: xa, yaxis: ya, mode: 'lines',
    line: { color: '#008000', width: 4.2, shape: 'spline' },
    name: 'GP Baseline', legendgroup: 'gp', showlegend: first, legendrank: 5
  });
  // observations
  traces.push({
    type: 'scatter', x: trainYears, y: p.train, xaxis: xa, yaxis: ya, mode: 'markers',
    marker: { size: 8, color: 'rgba(0,0,255,0.6)', line: { color: 'rgba(0,0,255,0.6)', width: 1.2 } },
    name: 'Train (Pre-2021)', legendgroup: 'train', showlegend: first, legendrank: 1
  });
  traces.push({
    type: 'scatter', x: testYears, y: p.test, xaxis: xa, yaxis: ya, mode: 'markers',
    marker: { size: 10, color: 'rgba(255,0,0,0.8)', line: { color: 'rgba(255,0,0,0.8)', width: 1.2 } },
    name: 'Test (2021+)', legendgroup: 'test', showlegend: first, legendrank: 2
  });

  // train/test boundary
  layout.shapes.push({
    type: 'line', xref: xa, yref: ya + ' domain', x0: BOUNDARY_YEAR, x1: BOUNDARY_YEAR, y0: 0, y1: 1,
    line: { color: '#000000', width: 4 }, layer: 'above'
  });

  // panel title
  layout.annotations.push({
    text: p.name, xref: 'paper', yref: 'paper',
    x: (PLOT_LEFT + PLOT_RIGHT) / 2 / FIG_W, y: 1 - (p.top - 22) / FIG_H,
    xanchor: 'center', yanchor: 'middle', showarrow: false,
    font: { family: FONT, size: 27.5, color: '#000000' }
  });
  // y-axis label
  layout.annotations.push({
    text: 'Index Value', xref: 'paper', yref: 'paper',
    x: 36 / FIG_W, y: 1 - (p.top + p.bottom) / 2 / FIG_H,
    xanchor: 'center', yanchor: 'middle', textangle: -90, showarrow: false,
    font: { family: FONT, size: 20.8, color: '#000000' }
  });
});

// legend entry for the boundary line
traces.push({
  type: 'scatter', x: [null], y: [null], xaxis: 'x', yaxis: 'y', mode: 'lines',
  line: { color: '#000000', width: 4 },
  name: 'Train/Test Boundary', legendgroup: 'boundary', showlegend: true, legendrank: 7
});

Plotly.newPlot('chart', traces, layout, { staticPlot: true, displayModeBar: false });
</script>
</body>
</html>
